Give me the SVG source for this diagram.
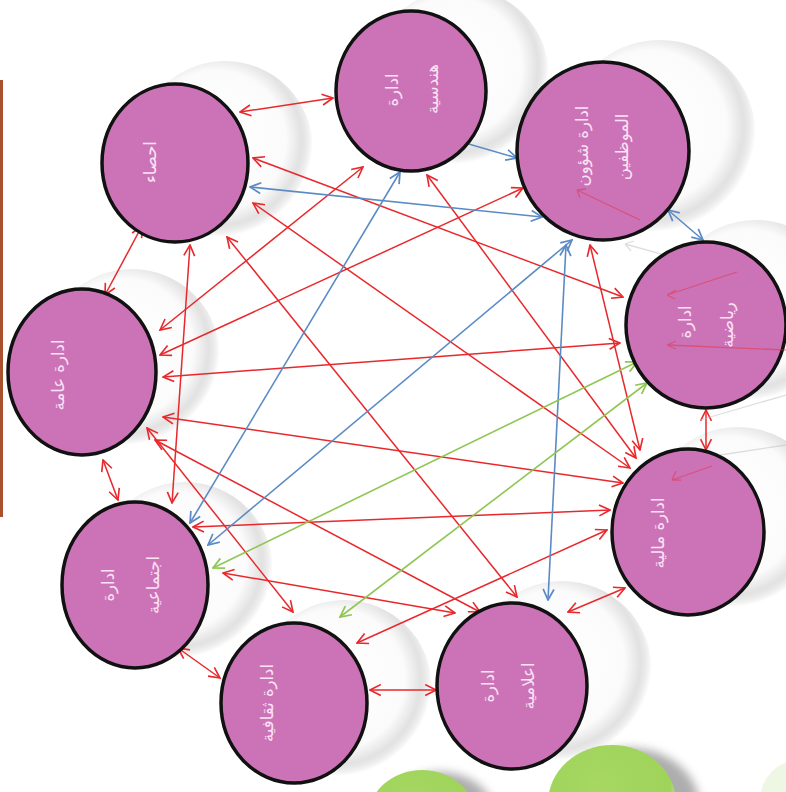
<svg xmlns="http://www.w3.org/2000/svg" width="786" height="792" viewBox="0 0 786 792">
<style>
.r{stroke:#e8282c;stroke-width:1.5;fill:none;marker-start:url(#mr);marker-end:url(#mr)}
.b{stroke:#5b8bc5;stroke-width:1.6;fill:none;marker-start:url(#mb);marker-end:url(#mb)}
.g{stroke:#8fc653;stroke-width:1.6;fill:none;marker-start:url(#mg);marker-end:url(#mg)}
.f{stroke:#e8282c;stroke-width:1.3;fill:none;opacity:0.45}
.fg{stroke:#c8c8c8;stroke-width:1.3;fill:none;opacity:0.6}
.node ellipse{fill:#cc73b8;stroke:#111;stroke-width:3.5}
.t{font-family:"DejaVu Sans",sans-serif;font-size:16.5px;fill:#fbe3f5;text-anchor:middle;dominant-baseline:central}
.sph{fill:url(#sg)}
</style>
<defs>
<radialGradient id="sg" cx="45%" cy="45%" r="55%">
<stop offset="0" stop-color="#ffffff"/>
<stop offset="0.72" stop-color="#fbfbfb"/>
<stop offset="0.88" stop-color="#e2e2e2"/>
<stop offset="1" stop-color="#d0d0d0" stop-opacity="0"/>
</radialGradient>
<radialGradient id="gg" cx="40%" cy="35%" r="65%">
<stop offset="0" stop-color="#a6d862"/>
<stop offset="0.85" stop-color="#9fd35a"/>
<stop offset="1" stop-color="#c6e992"/>
</radialGradient>
<filter id="blur" x="-20%" y="-20%" width="140%" height="140%"><feGaussianBlur stdDeviation="5"/></filter>
<marker id="mr" viewBox="0 0 12 12" refX="11" refY="6" markerWidth="13" markerHeight="13" markerUnits="userSpaceOnUse" orient="auto-start-reverse"><path d="M1,1 L11,6 L1,11" fill="none" stroke="#e8282c" stroke-width="1.5"/></marker>
<marker id="mb" viewBox="0 0 12 12" refX="11" refY="6" markerWidth="13" markerHeight="13" markerUnits="userSpaceOnUse" orient="auto-start-reverse"><path d="M1,1 L11,6 L1,11" fill="none" stroke="#5b8bc5" stroke-width="1.6"/></marker>
<marker id="mg" viewBox="0 0 12 12" refX="11" refY="6" markerWidth="13" markerHeight="13" markerUnits="userSpaceOnUse" orient="auto-start-reverse"><path d="M1,1 L11,6 L1,11" fill="none" stroke="#8fc653" stroke-width="1.6"/></marker>
</defs>
<rect width="786" height="792" fill="#ffffff"/>
<g id="background">
<circle class="sph" cx="225" cy="149" r="88"/>
<circle class="sph" cx="461" cy="76" r="88"/>
<circle class="sph" cx="660" cy="136" r="96"/>
<circle class="sph" cx="756" cy="310" r="90"/>
<circle class="sph" cx="738" cy="517" r="90"/>
<circle class="sph" cx="562" cy="671" r="90"/>
<circle class="sph" cx="344" cy="688" r="88"/>
<circle class="sph" cx="185" cy="570" r="88"/>
<circle class="sph" cx="132" cy="357" r="88"/>
<rect x="0" y="80" width="3" height="437" fill="#a8512c"/>
<ellipse cx="440" cy="822" rx="58" ry="50" fill="#777" opacity="0.6" filter="url(#blur)"/>
<ellipse cx="422" cy="818" rx="54" ry="48" fill="url(#gg)"/>
<ellipse cx="630" cy="808" rx="70" ry="60" fill="#777" opacity="0.6" filter="url(#blur)"/>
<ellipse cx="612" cy="803" rx="64" ry="58" fill="url(#gg)"/>
<ellipse cx="800" cy="800" rx="40" ry="40" fill="#eef6e4"/>
</g>
<g id="connectors">
<path class="r" d="M240,112 L333,98"/>
<path class="r" d="M706,410 L706,450"/>
<path class="r" d="M568,612 L625,588"/>
<path class="r" d="M370,690 L436,690"/>
<path class="r" d="M178,648 L220,678"/>
<path class="r" d="M103,460 L118,500"/>
<path class="r" d="M105,295 L142,226"/>
<path class="r" d="M190,245 L172,503"/>
<path class="r" d="M253,158 L623,297"/>
<path class="r" d="M253,203 L630,468"/>
<path class="r" d="M227,237 L517,597"/>
<path class="r" d="M363,167 L160,330"/>
<path class="r" d="M427,175 L636,458"/>
<path class="r" d="M523,188 L160,355"/>
<path class="r" d="M590,245 L640,450"/>
<path class="r" d="M620,343 L163,377"/>
<path class="r" d="M163,417 L623,483"/>
<path class="r" d="M155,440 L480,612"/>
<path class="r" d="M147,428 L293,612"/>
<path class="r" d="M193,527 L610,510"/>
<path class="r" d="M223,573 L455,613"/>
<path class="r" d="M357,643 L607,530"/>
<path class="b" d="M250,187 L542,217"/>
<path class="b" d="M400,172 L190,523"/>
<path class="b" d="M572,240 L208,545"/>
<path class="b" d="M566,245 L548,600"/>
<path class="b" d="M668,210 L703,240"/>
<path class="b" d="M455,140 L517,158"/>
<path class="g" d="M637,362 L213,568"/>
<path class="g" d="M647,383 L340,617"/>
<path class="fg" d="M625,244 L690,262 M625,244 l9,-3 M625,244 l6,7 M700,420 L786,395 M720,455 L786,445"/>
</g>
<g id="n-ihsa" class="node"><ellipse cx="175" cy="163" rx="73" ry="79"/><text class="t" transform="translate(150,162) rotate(-90)">احصاء</text></g>
<g id="n-handasia" class="node"><ellipse cx="411" cy="91" rx="75" ry="80"/><text class="t" transform="translate(392,90) rotate(-90)">ادارة</text><text class="t" transform="translate(432,89) rotate(-90)">هندسية</text></g>
<g id="n-shuoon" class="node"><ellipse cx="603" cy="151" rx="86" ry="89"/><text class="t" transform="translate(582,146) rotate(-90)">ادارة شؤون</text><text class="t" transform="translate(622,147) rotate(-90)">الموظفين</text></g>
<g id="n-riyadia" class="node"><ellipse cx="706" cy="325" rx="80" ry="83"/><text class="t" transform="translate(685,322) rotate(-90)">ادارة</text><text class="t" transform="translate(727,325) rotate(-90)">رياضية</text></g>
<g id="n-malia" class="node"><ellipse cx="688" cy="532" rx="76" ry="83"/><text class="t" transform="translate(658,533) rotate(-90)">ادارة مالية</text></g>
<g id="n-ielamia" class="node"><ellipse cx="512" cy="686" rx="75" ry="83"/><text class="t" transform="translate(488,686) rotate(-90)">ادارة</text><text class="t" transform="translate(528,686) rotate(-90)">اعلامية</text></g>
<g id="n-thaqafia" class="node"><ellipse cx="294" cy="703" rx="73" ry="80"/><text class="t" transform="translate(267,703) rotate(-90)">ادارة ثقافية</text></g>
<g id="n-ijtimaia" class="node"><ellipse cx="135" cy="585" rx="73" ry="83"/><text class="t" transform="translate(108,585) rotate(-90)">ادارة</text><text class="t" transform="translate(153,585) rotate(-90)">اجتماعية</text></g>
<g id="n-aama" class="node"><ellipse cx="82" cy="372" rx="74" ry="83"/><text class="t" transform="translate(58,375) rotate(-90)">ادارة عامة</text></g>
<g id="faint">
<path class="f" d="M577,190 L640,220 M577,190 l9,-1 M577,190 l3,8"/>
<path class="f" d="M667,295 L737,272 M667,295 l9,-5 M667,295 l8,4"/>
<path class="f" d="M667,345 L786,350 M667,345 l9,-4 M667,345 l9,4"/>
<path class="f" d="M672,480 L712,466 M672,480 l4,-9 M672,480 l9,0"/>
</g>
</svg>
